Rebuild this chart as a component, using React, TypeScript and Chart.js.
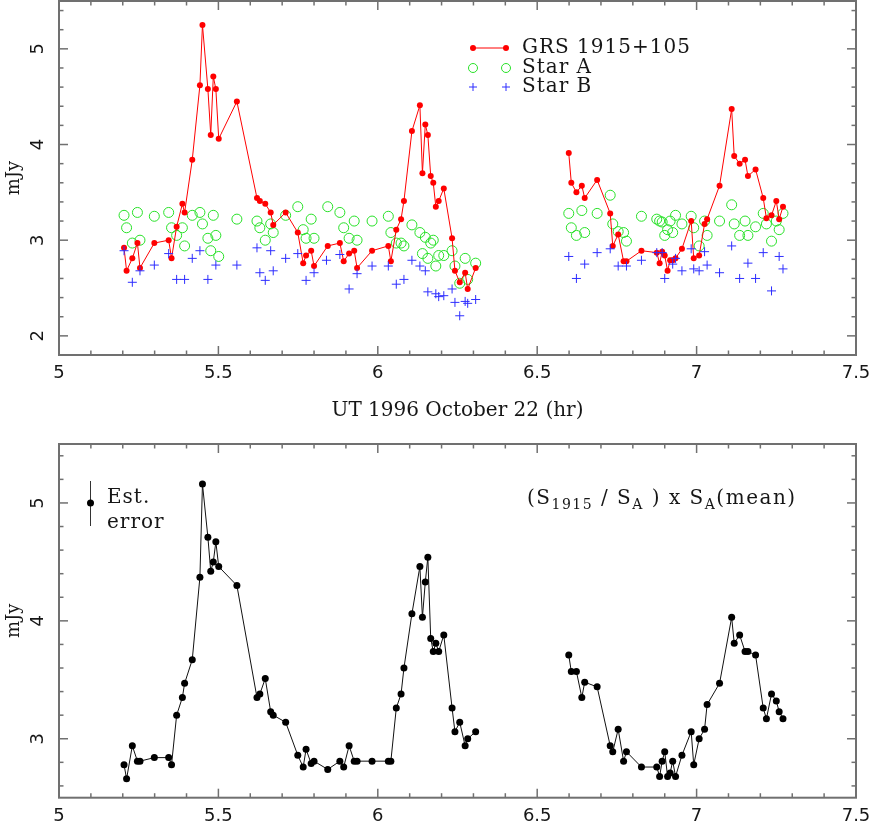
import React, { useEffect, useRef } from 'react';
import { Chart, registerables } from 'chart.js';

Chart.register(...registerables);

// ---------------- data ----------------
const hoursPart1 = [
  5.204, 5.212, 5.230, 5.246, 5.254, 5.299, 5.344, 5.353, 5.369, 5.387,
  5.394, 5.418, 5.442, 5.450, 5.467, 5.476, 5.484, 5.492, 5.501, 5.558,
  5.621, 5.630, 5.647, 5.664, 5.672, 5.711, 5.749, 5.766, 5.775, 5.791,
  5.800, 5.843, 5.881, 5.893, 5.910, 5.926, 5.935, 5.982, 6.033, 6.041,
  6.058, 6.073, 6.082, 6.107, 6.132, 6.140, 6.149, 6.157, 6.166, 6.174,
  6.182, 6.191, 6.207, 6.233, 6.242, 6.257, 6.274, 6.282, 6.307,
];
const hoursPart2 = [
  6.599, 6.607, 6.623, 6.640, 6.649, 6.688, 6.729, 6.737, 6.754, 6.771,
  6.780, 6.827, 6.875, 6.884, 6.892, 6.900, 6.909, 6.917, 6.925, 6.934,
  6.954, 6.983, 6.991, 7.008, 7.025, 7.033, 7.072, 7.110, 7.118, 7.135,
  7.152, 7.161, 7.185, 7.209, 7.219, 7.235, 7.250, 7.259, 7.271,
];

const grsPart1 = [
  2.92, 2.68, 2.81, 2.97, 2.71, 2.97, 3.00, 2.81, 3.14, 3.38,
  3.29, 3.84, 4.62, 5.25, 4.58, 4.10, 4.71, 4.58, 4.06, 4.45,
  3.44, 3.41, 3.38, 3.29, 3.16, 3.29, 3.08, 2.76, 2.84, 2.89,
  2.73, 2.94, 2.97, 2.78, 2.86, 2.89, 2.71, 2.89, 2.94, 2.78,
  3.11, 3.22, 3.41, 4.14, 4.41, 3.70, 4.21, 4.10, 3.67, 3.60,
  3.35, 3.41, 3.54, 3.02, 2.68, 2.56, 2.66, 2.49, 2.71,
];
const grsPart2 = [
  3.91, 3.60, 3.50, 3.57, 3.44, 3.63, 3.28, 2.94, 3.06, 2.78,
  2.78, 2.89, 2.87, 2.76, 2.88, 2.84, 2.68, 2.79, 2.79, 2.81,
  2.91, 3.20, 2.81, 2.84, 3.17, 3.22, 3.57, 4.37, 3.88, 3.80,
  3.84, 3.67, 3.74, 3.44, 3.23, 3.26, 3.41, 3.22, 3.35,
];

const starAPart1 = [
  3.26, 3.13, 2.97, 3.29, 3.00, 3.25, 3.29, 3.13, 3.05, 3.13,
  2.94, 3.26, 3.29, 3.17, 3.02, 2.89, 3.26, 3.05, 2.83, 3.22,
  3.20, 3.13, 3.00, 3.17, 3.08, 3.26, 3.35, 3.11, 3.02, 3.22,
  3.02, 3.35, 3.29, 3.13, 3.02, 3.20, 3.00, 3.20, 3.25, 3.08,
  2.97, 2.97, 2.94, 3.16, 3.08, 2.86, 3.03, 2.81, 2.97, 3.00,
  2.73, 2.84, 2.84, 2.89, 2.73, 2.55, 2.81, 2.59, 2.76,
];
const starAPart2 = [
  3.28, 3.13, 3.05, 3.31, 3.08, 3.28, 3.47, 3.17, 3.09, 3.08,
  2.99, 3.25, 3.22, 3.20, 3.19, 3.05, 3.11, 3.20, 3.08, 3.26,
  3.17, 3.25, 3.13, 2.94, 3.20, 3.05, 3.20, 3.37, 3.17, 3.05,
  3.20, 3.05, 3.14, 3.28, 3.17, 2.99, 3.20, 3.11, 3.28,
];

const starBHours = [
  5.204, 5.230, 5.254, 5.299, 5.344, 5.369, 5.394, 5.418, 5.442, 5.467,
  5.492, 5.558, 5.621, 5.630, 5.647, 5.664, 5.672, 5.711, 5.749, 5.775,
  5.800, 5.839, 5.881, 5.910, 5.935, 5.982, 6.033, 6.058, 6.082, 6.107,
  6.132, 6.149, 6.157, 6.182, 6.191, 6.207, 6.233, 6.242, 6.257, 6.274,
  6.282, 6.307, 6.599, 6.623, 6.649, 6.688, 6.729, 6.754, 6.780, 6.827,
  6.875, 6.892, 6.900, 6.925, 6.934, 6.954, 6.983, 6.991, 7.008, 7.025,
  7.033, 7.072, 7.110, 7.135, 7.161, 7.185, 7.209, 7.235, 7.259, 7.271,
];
const starBValues = [
  2.89, 2.56, 2.68, 2.74, 2.86, 2.59, 2.59, 2.81, 2.89, 2.59,
  2.74, 2.74, 2.92, 2.66, 2.58, 2.89, 2.68, 2.81, 2.86, 2.58,
  2.66, 2.79, 2.85, 2.49, 2.65, 2.73, 2.73, 2.54, 2.59, 2.79,
  2.73, 2.68, 2.46, 2.44, 2.41, 2.42, 2.49, 2.35, 2.21, 2.36,
  2.34, 2.38, 2.83, 2.60, 2.75, 2.87, 2.91, 2.73, 2.73, 2.79,
  2.87, 2.87, 2.60, 2.75, 2.81, 2.68, 2.91, 2.70, 2.68, 2.88,
  2.74, 2.66, 2.94, 2.60, 2.76, 2.60, 2.87, 2.47, 2.83, 2.70,
];

const ratioPart1 = [
  2.78, 2.66, 2.94, 2.81, 2.81, 2.84, 2.84, 2.78, 3.20, 3.35,
  3.47, 3.67, 4.37, 5.16, 4.71, 4.42, 4.50, 4.67, 4.46, 4.30,
  3.35, 3.38, 3.51, 3.23, 3.20, 3.14, 2.86, 2.76, 2.91, 2.79,
  2.81, 2.74, 2.81, 2.76, 2.94, 2.81, 2.81, 2.81, 2.81, 2.81,
  3.26, 3.38, 3.60, 4.06, 4.46, 4.03, 4.33, 4.54, 3.85, 3.74,
  3.81, 3.74, 3.88, 3.26, 3.06, 3.14, 2.94, 3.00, 3.06,
];
const ratioPart2 = [
  3.71, 3.57, 3.57, 3.35, 3.48, 3.44, 2.94, 2.89, 3.08, 2.81,
  2.89, 2.76, 2.76, 2.68, 2.81, 2.89, 2.68, 2.71, 2.81, 2.68,
  2.86, 3.06, 2.78, 3.00, 3.08, 3.29, 3.47, 4.03, 3.81, 3.88,
  3.74, 3.74, 3.71, 3.26, 3.17, 3.38, 3.32, 3.23, 3.17,
];

const xTickValues = [5, 5.5, 6, 6.5, 7, 7.5];
const topYTickValues = [2, 3, 4, 5];
const bottomYTickValues = [3, 4, 5];

const seriesLabels = ['GRS 1915+105', 'Star A', 'Star B'];
const xAxisTitle = 'UT 1996 October 22 (hr)';
const yAxisTitle = 'mJy';

// ---------------- styling ----------------
const SERIF = '"DejaVu Serif", "Liberation Serif", serif';
const SANS = '"DejaVu Sans", sans-serif';
const TEXT = '#161616';
const FRAME = '#707070';
const RED = 'rgb(255,0,0)';
const GREEN = 'rgb(40,225,40)';
const BLUE = 'rgb(45,45,255)';

const pts = (xs: number[], ys: number[]) => xs.map((x, i) => ({ x, y: ys[i] }));

const zeroPad = (s: any) => {
  s.paddingTop = 0;
  s.paddingBottom = 0;
  s.paddingLeft = 0;
  s.paddingRight = 0;
};

// frame on all four sides with inward ticks, plus rotated y tick labels
const framePlugin = {
  id: 'frameTicks',
  afterDatasetsDraw(chart: any, _args: any, opts: any) {
    const { ctx, chartArea } = chart;
    const { left, right, top, bottom } = chartArea;
    const xs = chart.scales.x;
    const ys = chart.scales.y;
    ctx.save();
    ctx.strokeStyle = FRAME;
    ctx.lineWidth = 1.5;
    const seg = (x1: number, y1: number, x2: number, y2: number) => {
      ctx.beginPath();
      ctx.moveTo(x1, y1);
      ctx.lineTo(x2, y2);
      ctx.stroke();
    };
    const isMajor = (v: number, step: number) => Math.abs(v / step - Math.round(v / step)) < 1e-6;
    for (let k = Math.ceil(xs.min / opts.xMinor - 1e-9); k * opts.xMinor <= xs.max + 1e-9; k++) {
      const v = k * opts.xMinor;
      const len = isMajor(v, opts.xMajor) ? 9 : 4.5;
      const p = xs.getPixelForValue(v);
      seg(p, bottom, p, bottom - len);
      seg(p, top, p, top + len);
    }
    for (let k = Math.ceil(ys.min / opts.yMinor - 1e-9); k * opts.yMinor <= ys.max + 1e-9; k++) {
      const v = k * opts.yMinor;
      const len = isMajor(v, opts.yMajor) ? 9 : 4.5;
      const p = ys.getPixelForValue(v);
      seg(left, p, left + len, p);
      seg(right, p, right - len, p);
    }
    ctx.lineWidth = 2;
    ctx.strokeRect(left, top, right - left, bottom - top);

    // rotated y tick labels (read bottom-to-top)
    ctx.fillStyle = TEXT;
    ctx.font = '18px ' + SANS;
    ctx.textAlign = 'center';
    ctx.textBaseline = 'middle';
    (opts.yLabels as number[]).forEach((v) => {
      const p = ys.getPixelForValue(v);
      ctx.save();
      ctx.translate(left - 20.5, p);
      ctx.rotate(-Math.PI / 2);
      ctx.fillText(String(v), 0, 0);
      ctx.restore();
    });
    ctx.restore();
  },
};

const setSpacing = (ctx: any, px: number) => {
  if ('letterSpacing' in ctx) ctx.letterSpacing = px + 'px';
};

const topLegendPlugin = {
  id: 'topLegend',
  afterDraw(chart: any) {
    const ctx = chart.ctx;
    const x1 = 473;
    const x2 = 506;
    const tx = 522;
    const rows = [48, 68, 87];
    ctx.save();
    ctx.strokeStyle = RED;
    ctx.fillStyle = RED;
    ctx.lineWidth = 1;
    ctx.beginPath();
    ctx.moveTo(x1, rows[0]);
    ctx.lineTo(x2, rows[0]);
    ctx.stroke();
    [x1, x2].forEach((x) => {
      ctx.beginPath();
      ctx.arc(x, rows[0], 3, 0, Math.PI * 2);
      ctx.fill();
    });
    ctx.strokeStyle = GREEN;
    [x1, x2].forEach((x) => {
      ctx.beginPath();
      ctx.arc(x, rows[1], 4.5, 0, Math.PI * 2);
      ctx.stroke();
    });
    ctx.strokeStyle = BLUE;
    [x1, x2].forEach((x) => {
      ctx.beginPath();
      ctx.moveTo(x - 4, rows[2]);
      ctx.lineTo(x + 4, rows[2]);
      ctx.moveTo(x, rows[2] - 4);
      ctx.lineTo(x, rows[2] + 4);
      ctx.stroke();
    });
    ctx.fillStyle = TEXT;
    ctx.font = '20px ' + SERIF;
    ctx.textBaseline = 'middle';
    ctx.textAlign = 'left';
    setSpacing(ctx, 1);
    seriesLabels.forEach((t, i) => ctx.fillText(t, tx, rows[i]));
    ctx.restore();
  },
};

const bottomNotesPlugin = {
  id: 'bottomNotes',
  afterDraw(chart: any) {
    const ctx = chart.ctx;
    ctx.save();
    ctx.strokeStyle = '#333';
    ctx.fillStyle = '#000';
    ctx.lineWidth = 1;
    ctx.beginPath();
    ctx.moveTo(90.5, 51);
    ctx.lineTo(90.5, 96);
    ctx.stroke();
    ctx.beginPath();
    ctx.arc(90.5, 73, 3.5, 0, Math.PI * 2);
    ctx.fill();
    ctx.fillStyle = TEXT;
    ctx.textBaseline = 'alphabetic';
    ctx.textAlign = 'left';
    ctx.font = '20px ' + SERIF;
    setSpacing(ctx, 1);
    ctx.fillText('Est.', 107, 73);
    ctx.fillText('error', 107, 98);
    const pieces: [string, boolean][] = [
      ['(S', false], ['1915', true], [' / S', false], ['A', true],
      [' ) x S', false], ['A', true], ['(mean)', false],
    ];
    setSpacing(ctx, 1.5);
    let x = 527;
    const base = 74;
    pieces.forEach(([t, sub]) => {
      ctx.font = (sub ? '14px ' : '20px ') + SERIF;
      ctx.fillText(t, x, sub ? base + 5 : base);
      x += ctx.measureText(t).width;
    });
    ctx.restore();
  },
};

const commonX = (height: number, showTitle: boolean) => ({
  type: 'linear',
  min: 5,
  max: 7.5,
  grid: { display: false, drawTicks: false },
  border: { display: false },
  afterBuildTicks: (s: any) => {
    s.ticks = xTickValues.map((v) => ({ value: v }));
  },
  afterFit: (s: any) => {
    s.height = height;
    zeroPad(s);
  },
  ticks: {
    padding: 7.5,
    autoSkip: false,
    maxRotation: 0,
    color: TEXT,
    font: { family: SANS, size: 18 },
    callback: (v: any) => String(v),
  },
  title: {
    display: showTitle,
    text: xAxisTitle,
    color: TEXT,
    font: { family: SERIF, size: 20 },
    padding: { top: 0, bottom: 7 },
  },
});

const commonY = (min: number, max: number, tickValues: number[]) => ({
  type: 'linear',
  min,
  max,
  grid: { display: false, drawTicks: false },
  border: { display: false },
  afterBuildTicks: (s: any) => {
    s.ticks = tickValues.map((v) => ({ value: v }));
  },
  afterFit: (s: any) => {
    s.width = 59;
    zeroPad(s);
  },
  ticks: { display: false },
  title: {
    display: true,
    text: yAxisTitle,
    color: TEXT,
    font: { family: SERIF, size: 18 },
    padding: { top: 4, bottom: 0 },
  },
});

const grsStyle = {
  showLine: true,
  borderColor: RED,
  borderWidth: 1,
  pointRadius: 3,
  pointBackgroundColor: RED,
  pointBorderColor: RED,
  pointBorderWidth: 0,
  order: 2,
};

const ratioStyle = {
  showLine: true,
  borderColor: '#111',
  borderWidth: 1,
  pointRadius: 3.5,
  pointBackgroundColor: '#000',
  pointBorderColor: '#000',
  pointBorderWidth: 0,
};

const topConfig = (): any => ({
  type: 'scatter',
  data: {
    datasets: [
      {
        label: seriesLabels[2],
        data: pts(starBHours, starBValues),
        pointStyle: 'cross',
        pointRadius: 4.5,
        pointBorderColor: BLUE,
        pointBorderWidth: 1,
        borderColor: BLUE,
        order: 1,
      },
      { label: seriesLabels[0], data: pts(hoursPart1, grsPart1), ...grsStyle },
      { label: seriesLabels[0], data: pts(hoursPart2, grsPart2), ...grsStyle },
      {
        label: seriesLabels[1],
        data: pts(hoursPart1, starAPart1).concat(pts(hoursPart2, starAPart2)),
        pointStyle: 'circle',
        pointRadius: 5,
        pointBackgroundColor: 'rgba(0,0,0,0)',
        pointBorderColor: GREEN,
        pointBorderWidth: 1,
        borderColor: GREEN,
        order: 3,
      },
    ],
  },
  options: {
    responsive: false,
    animation: false,
    devicePixelRatio: 1,
    events: [],
    layout: { autoPadding: false, padding: { left: 0, right: 16, top: 1, bottom: 0 } },
    plugins: {
      legend: { display: false },
      tooltip: { enabled: false },
      frameTicks: { xMinor: 0.1, xMajor: 0.5, yMinor: 0.2, yMajor: 1, yLabels: topYTickValues },
    },
    scales: {
      x: commonX(75, true),
      y: commonY(1.8, 5.5, topYTickValues),
    },
  },
  plugins: [framePlugin, topLegendPlugin],
});

const bottomConfig = (): any => ({
  type: 'scatter',
  data: {
    datasets: [
      { label: 'ratio', data: pts(hoursPart1, ratioPart1), ...ratioStyle },
      { label: 'ratio', data: pts(hoursPart2, ratioPart2), ...ratioStyle },
    ],
  },
  options: {
    responsive: false,
    animation: false,
    devicePixelRatio: 1,
    events: [],
    layout: { autoPadding: false, padding: { left: 0, right: 16, top: 14, bottom: 0 } },
    plugins: {
      legend: { display: false },
      tooltip: { enabled: false },
      frameTicks: { xMinor: 0.1, xMajor: 0.5, yMinor: 0.2, yMajor: 1, yLabels: bottomYTickValues },
    },
    scales: {
      x: commonX(25.3, false),
      y: commonY(2.5, 5.5, bottomYTickValues),
    },
  },
  plugins: [framePlugin, bottomNotesPlugin],
});

export default function App() {
  const topRef = useRef<HTMLCanvasElement>(null);
  const bottomRef = useRef<HTMLCanvasElement>(null);

  useEffect(() => {
    const c1 = new Chart(topRef.current as HTMLCanvasElement, topConfig());
    const c2 = new Chart(bottomRef.current as HTMLCanvasElement, bottomConfig());
    return () => {
      c1.destroy();
      c2.destroy();
    };
  }, []);

  return (
    <div style={{ position: 'absolute', left: 0, top: 0, width: 872, height: 823, background: '#fff', overflow: 'hidden' }}>
      <canvas
        ref={topRef}
        width={872}
        height={430}
        style={{ position: 'absolute', left: 0, top: 0, width: 872, height: 430, display: 'block' }}
      />
      <canvas
        ref={bottomRef}
        width={872}
        height={393}
        style={{ position: 'absolute', left: 0, top: 430, width: 872, height: 393, display: 'block' }}
      />
    </div>
  );
}
